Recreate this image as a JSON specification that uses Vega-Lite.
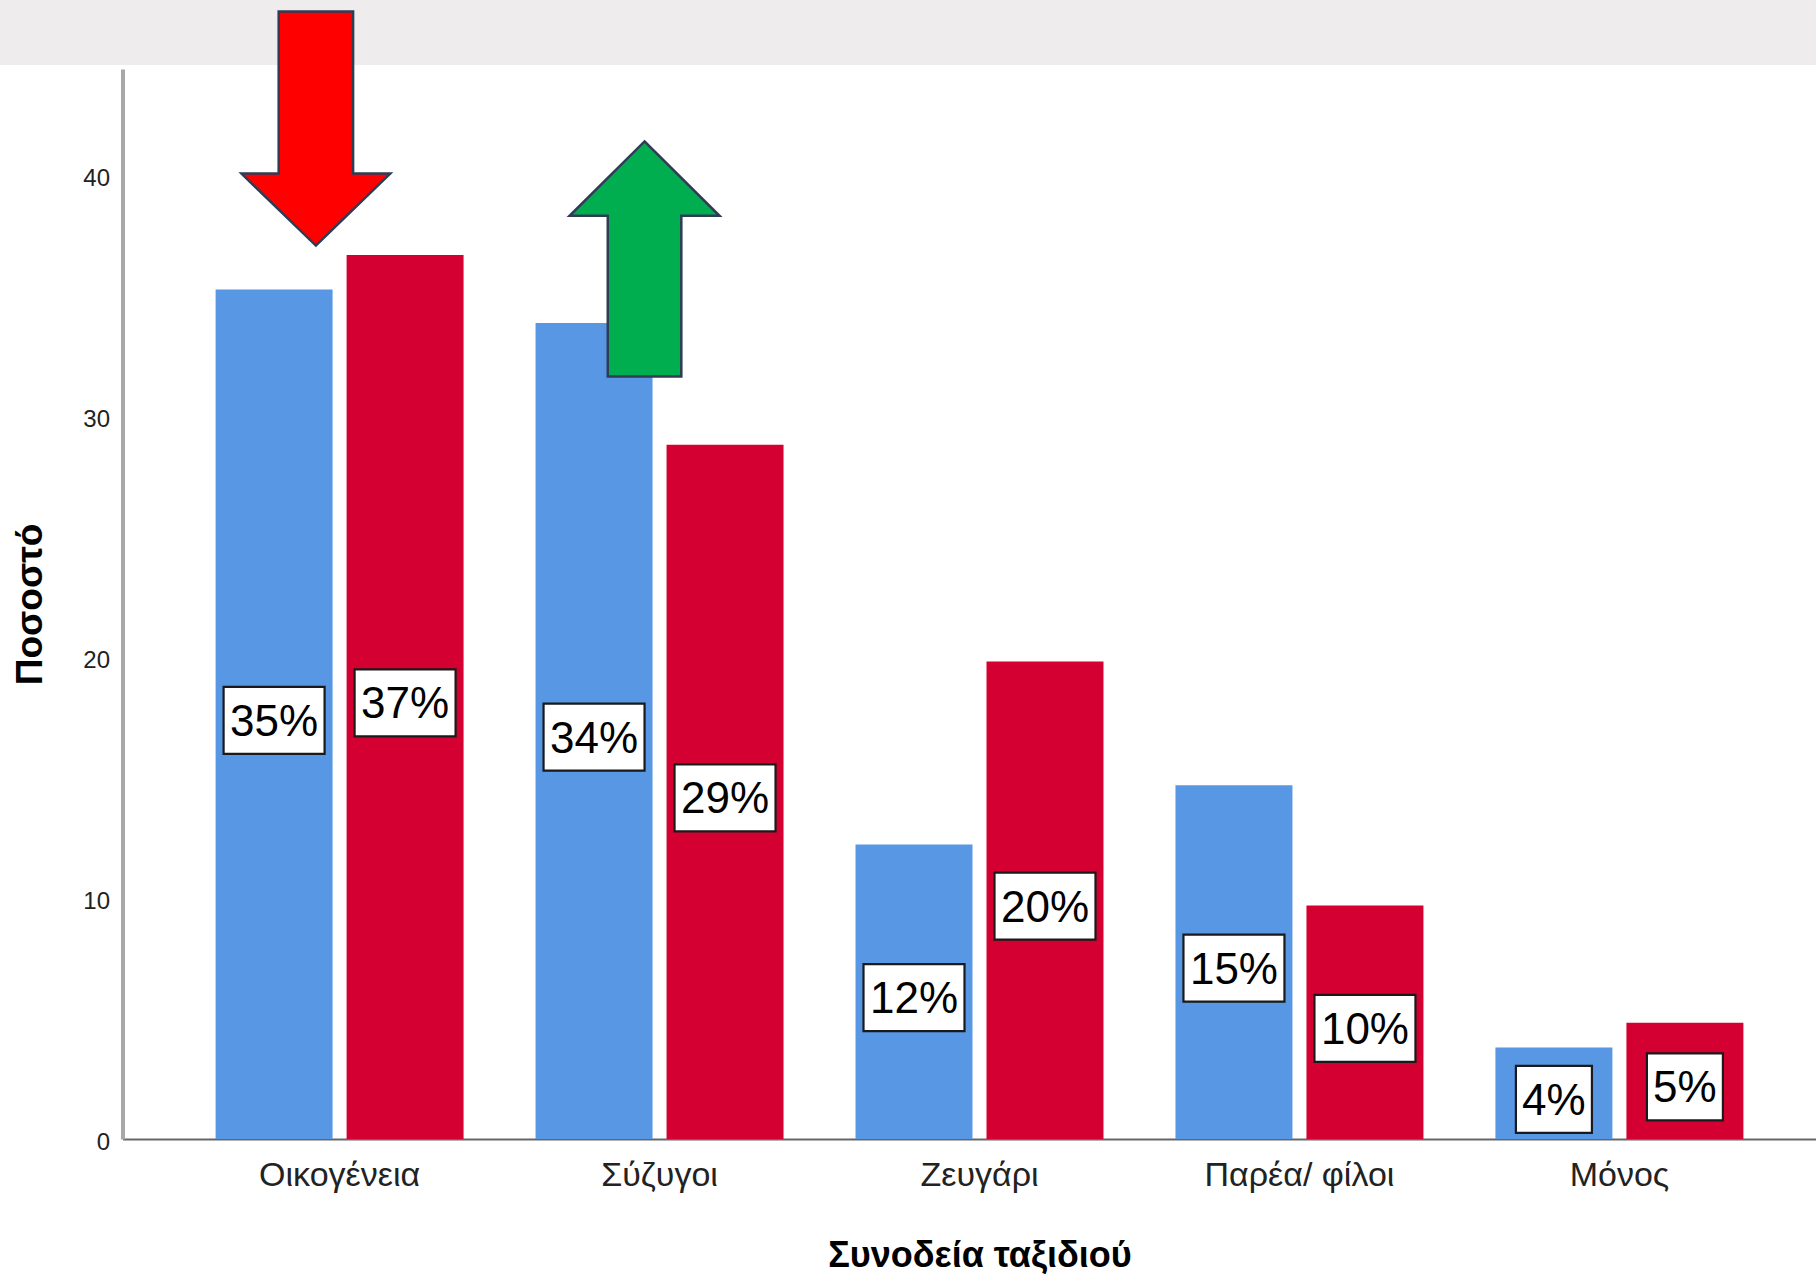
{
  "$schema": "https://vega.github.io/schema/vega-lite/v6.json",
  "autosize": {"type": "none"},
  "width": 1693.5,
  "height": 1070,
  "padding": {"left": 122.5, "top": 69, "right": 0, "bottom": 135},
  "background": "#ffffff",
  "config": {
    "view": {"stroke": null},
    "font": "Liberation Sans",
    "axis": {"labelFont": "Liberation Sans", "titleFont": "Liberation Sans"}
  },
  "datasets": {
    "bars": [
      {"cat": "Οικογένεια", "series": "Α", "value": 35.23, "label": "35%"},
      {"cat": "Οικογένεια", "series": "Β", "value": 36.67, "label": "37%"},
      {"cat": "Σύζυγοι", "series": "Α", "value": 33.84, "label": "34%"},
      {"cat": "Σύζυγοι", "series": "Β", "value": 28.79, "label": "29%"},
      {"cat": "Ζευγάρι", "series": "Α", "value": 12.22, "label": "12%"},
      {"cat": "Ζευγάρι", "series": "Β", "value": 19.81, "label": "20%"},
      {"cat": "Παρέα/ φίλοι", "series": "Α", "value": 14.67, "label": "15%"},
      {"cat": "Παρέα/ φίλοι", "series": "Β", "value": 9.68, "label": "10%"},
      {"cat": "Μόνος", "series": "Α", "value": 3.79, "label": "4%"},
      {"cat": "Μόνος", "series": "Β", "value": 4.82, "label": "5%"}
    ],
    "band": [{"x0": -0.08, "x1": 1.1, "y0": 44.55, "y1": 47.5}],
    "downArrow": [{"cat": "Οικογένεια", "pos": 41.91}],
    "upArrow": [{"cat": "Σύζυγοι", "pos": 36.5}]
  },
  "resolve": {"scale": {"x": "independent", "y": "independent", "xOffset": "independent"}},
  "layer": [
    {
      "data": {"name": "band"},
      "mark": {"type": "rect", "color": "#EEECED"},
      "encoding": {
        "x": {"field": "x0", "type": "quantitative", "scale": {"domain": [0, 1], "nice": false, "zero": false}, "axis": null},
        "x2": {"field": "x1"},
        "y": {"field": "y0", "type": "quantitative", "scale": {"domain": [0, 44.38], "nice": false}, "axis": null},
        "y2": {"field": "y1"}
      }
    },
    {
      "layer": [
        {
          "data": {"name": "bars"},
          "mark": {"type": "bar"},
          "encoding": {
            "x": {
              "field": "cat", "type": "nominal",
              "sort": ["Οικογένεια", "Σύζυγοι", "Ζευγάρι", "Παρέα/ φίλοι", "Μόνος"],
              "scale": {"type": "band", "range": [0, 1714], "paddingInner": 0.225, "paddingOuter": 0.291},
              "title": "Συνοδεία ταξιδιού",
              "axis": {
                "labelAngle": 0, "labelFontSize": 34, "labelColor": "#222222", "labelPadding": 19, "labelLimit": 0,
                "ticks": false, "grid": false, "domainColor": "#666666", "domainWidth": 2,
                "titleFontSize": 36, "titleFontWeight": "bold", "titleColor": "#000000", "titlePadding": 46
              }
            },
            "xOffset": {"field": "series", "type": "nominal", "scale": {"type": "band", "paddingInner": 0.107, "paddingOuter": 0}},
            "y": {
              "field": "value", "type": "quantitative",
              "scale": {"domain": [0, 44.38], "nice": false},
              "title": "Ποσοστό",
              "axis": {
                "values": [0, 10, 20, 30, 40], "ticks": false, "labelFontSize": 24, "labelColor": "#222222",
                "labelPadding": 13, "labelOffset": 3.5, "domainColor": "#A8A8A8", "domainWidth": 4,
                "gridColor": "#D2D2D2", "gridWidth": 2.5,
                "titleFontSize": 37, "titleFontWeight": "bold", "titleColor": "#000000", "titlePadding": 33
              }
            },
            "color": {"field": "series", "type": "nominal", "scale": {"domain": ["Α", "Β"], "range": ["#5797E3", "#D50032"]}, "legend": null}
          }
        },
        {
          "data": {"name": "downArrow"},
          "mark": {
            "type": "point", "filled": true, "opacity": 1, "xOffset": -23.7,
            "shape": "M-0.318,-1L0.318,-1L0.318,0.385L0.636,0.385L0,1L-0.636,0.385L-0.318,0.385Z",
            "size": 54756, "fill": "#FF0000", "stroke": "#2E3D55", "strokeWidth": 2.5
          },
          "encoding": {
            "x": {"field": "cat", "type": "nominal", "sort": ["Οικογένεια", "Σύζυγοι", "Ζευγάρι", "Παρέα/ φίλοι", "Μόνος"], "title": "Συνοδεία ταξιδιού"},
            "y": {"field": "pos", "type": "quantitative", "title": "Ποσοστό"}
          }
        },
        {
          "data": {"name": "upArrow"},
          "mark": {
            "type": "point", "filled": true, "opacity": 1, "xOffset": -15,
            "shape": "M0,-1L0.638,-0.368L0.313,-0.368L0.313,1L-0.313,1L-0.313,-0.368L-0.638,-0.368Z",
            "size": 55225, "fill": "#00AE50", "stroke": "#2E3D55", "strokeWidth": 2.5
          },
          "encoding": {
            "x": {"field": "cat", "type": "nominal", "sort": ["Οικογένεια", "Σύζυγοι", "Ζευγάρι", "Παρέα/ φίλοι", "Μόνος"], "title": "Συνοδεία ταξιδιού"},
            "y": {"field": "pos", "type": "quantitative", "title": "Ποσοστό"}
          }
        }
      ]
    },
    {
      "data": {"name": "bars"},
      "encoding": {
        "x": {
          "field": "cat", "type": "nominal",
          "sort": ["Οικογένεια", "Σύζυγοι", "Ζευγάρι", "Παρέα/ φίλοι", "Μόνος"],
          "scale": {"type": "band", "range": [0, 1714], "paddingInner": 0.225, "paddingOuter": 0.291},
          "axis": null
        },
        "xOffset": {"field": "series", "type": "nominal", "scale": {"type": "band", "paddingInner": 0.107, "paddingOuter": 0}},
        "y": {"field": "value", "type": "quantitative", "scale": {"domain": [0, 88.76], "nice": false}, "axis": null}
      },
      "layer": [
        {
          "transform": [{"filter": "length(datum.label) == 3"}],
          "mark": {
            "type": "point", "filled": true, "opacity": 1, "yOffset": 6,
            "shape": "M-1,-0.663H1V0.663H-1Z", "size": 10201,
            "fill": "#FFFFFF", "stroke": "#1A1A1A", "strokeWidth": 2.2
          }
        },
        {
          "transform": [{"filter": "length(datum.label) == 2"}],
          "mark": {
            "type": "point", "filled": true, "opacity": 1, "yOffset": 6,
            "shape": "M-1,-0.882H1V0.882H-1Z", "size": 5776,
            "fill": "#FFFFFF", "stroke": "#1A1A1A", "strokeWidth": 2.2
          }
        },
        {
          "mark": {
            "type": "text", "font": "Liberation Sans", "fontSize": 44, "color": "#000000",
            "align": "center", "baseline": "alphabetic", "yOffset": 6, "dy": 15.5
          },
          "encoding": {"text": {"field": "label", "type": "nominal"}}
        }
      ]
    }
  ]
}
